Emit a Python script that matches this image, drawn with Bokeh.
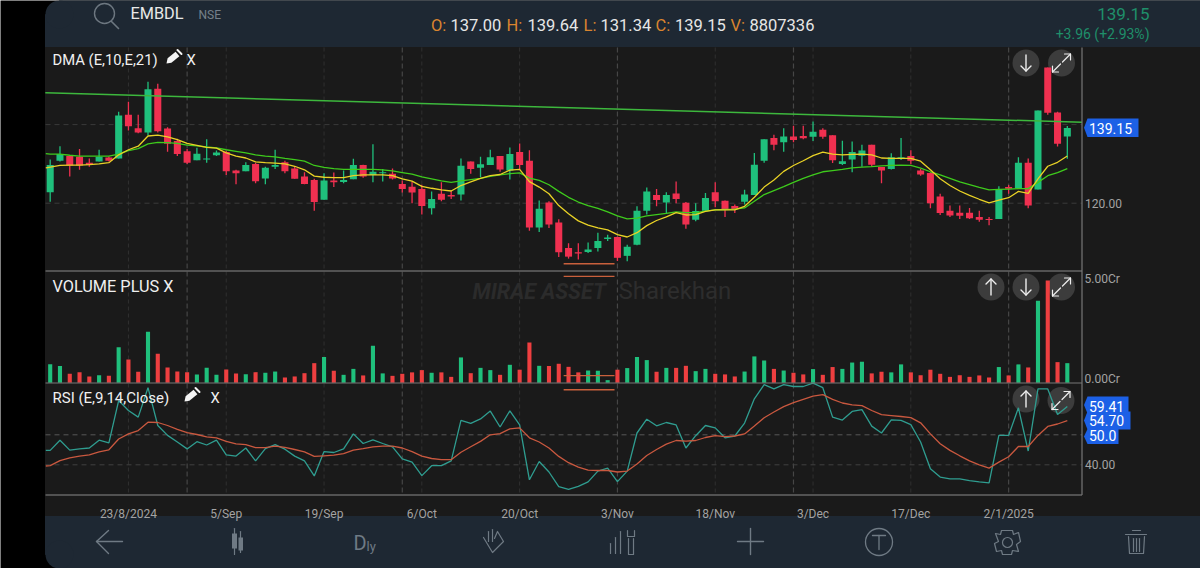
from bokeh.core.properties import value
from bokeh.embed import file_html
from bokeh.models import ColumnDataSource, FixedTicker, LinearAxis, Range1d
from bokeh.plotting import figure
from bokeh.resources import INLINE

# ---------------- data ----------------
SYMBOL = "EMBDL"
OPEN = [122.8,130.8,132.0,131.8,130.3,130.6,131.6,131.4,142.5,139.1,138.0,149.1,139.0,135.8,133.2,130.9,131.1,132.2,133.0,128.3,
        128.1,130.0,126.3,129.3,130.4,128.8,126.8,125.9,120.9,125.8,125.4,126.1,129.7,127.2,127.6,127.5,124.9,124.2,123.6,118.7,
        122.4,122.1,122.2,130.6,129.0,129.7,132.0,128.3,133.0,130.8,113.8,120.2,115.1,108.6,107.5,107.6,108.6,110.9,111.4,106.6,
        109.4,118.1,122.1,120.2,122.5,120.1,115.8,118.1,122.8,120.6,119.3,120.4,122.1,130.8,136.6,135.5,137.0,137.1,136.9,138.7,
        137.3,130.0,131.1,132.1,134.9,129.2,128.7,131.3,132.0,128.3,127.7,121.7,118.1,117.6,117.6,116.5,116.0,116.0,124.1,123.8,
        130.3,123.5,154.5,143.1,137.0]
HIGH = [131.1,134.5,132.0,133.8,131.4,133.6,131.9,143.3,145.8,142.5,150.9,150.4,139.3,136.4,133.8,134.1,136.3,133.4,133.4,128.5,
        130.4,130.3,129.3,133.6,130.8,129.4,127.9,126.2,127.6,127.8,128.3,131.3,129.8,135.0,128.7,128.8,125.8,125.5,124.7,123.0,
        125.3,123.2,131.4,130.6,131.8,133.6,132.0,134.2,135.2,133.5,120.7,120.5,115.9,109.8,109.8,110.0,112.5,112.0,111.5,109.4,
        119.2,124.0,123.6,122.8,125.5,120.3,120.0,122.6,125.3,120.7,119.7,123.4,132.8,136.3,137.4,139.1,139.7,139.7,140.8,139.1,
        137.3,135.9,135.7,134.9,134.9,129.2,132.7,136.6,133.5,128.7,127.9,122.4,119.4,119.4,118.8,118.1,116.5,124.3,124.6,131.7,
        131.4,143.6,154.5,143.3,139.64]
LOW = [120.4,130.6,126.8,128.5,129.3,130.6,130.6,131.4,138.5,137.8,137.2,138.0,133.1,132.0,130.0,130.9,130.3,132.0,127.2,124.8,
       128.1,125.1,124.8,128.7,127.6,126.2,124.8,118.1,120.9,124.1,125.1,126.1,126.5,125.3,125.5,126.0,122.7,120.0,117.1,117.1,
       120.5,121.1,120.7,127.5,126.6,129.7,128.0,126.0,128.6,113.0,112.7,113.7,106.3,105.9,105.7,107.3,107.7,110.4,105.3,105.2,
       109.3,117.1,119.2,117.3,120.0,113.5,115.4,117.9,119.0,116.5,117.5,119.7,122.1,130.3,133.5,133.1,135.5,136.3,135.8,136.4,
       130.2,129.7,127.9,129.3,129.3,125.1,128.6,131.0,129.9,127.0,118.7,117.0,116.5,116.0,116.0,115.3,114.4,116.0,122.4,123.8,
       118.7,123.5,142.5,134.4,131.34]
CLOSE = [129.7,132.5,129.6,129.6,129.7,131.8,130.8,142.3,139.6,138.0,149.0,138.3,135.1,132.5,130.3,132.6,131.4,132.9,128.1,127.6,
         129.7,125.6,129.0,129.7,128.1,126.2,124.9,120.3,125.8,125.3,125.9,129.7,126.8,128.0,127.9,126.3,123.6,122.7,119.3,121.1,
         120.9,121.7,129.5,128.7,129.9,131.7,128.6,132.5,129.7,113.8,118.6,114.6,107.5,106.4,107.2,108.2,110.4,111.3,106.1,108.9,
         118.1,123.0,120.8,122.1,121.1,114.6,118.0,121.3,120.5,118.4,118.5,122.2,129.8,136.3,134.9,137.0,136.1,136.5,138.2,136.9,
         130.9,130.7,133.0,133.4,129.8,128.3,131.7,131.7,130.8,127.3,120.0,117.5,116.9,116.8,116.2,115.8,115.7,123.6,123.7,130.3,
         119.4,143.6,143.0,135.1,139.15]
VOLUME = [0.91,0.82,0.44,0.51,0.31,0.37,0.34,1.74,1.14,0.54,2.49,1.42,0.75,0.55,0.51,0.41,0.73,0.39,0.65,0.46,
          0.42,0.52,0.49,0.55,0.26,0.31,0.47,0.96,1.26,0.59,0.39,0.68,0.36,1.81,0.46,0.34,0.44,0.51,0.62,0.49,
          0.51,0.29,1.24,0.47,0.73,0.62,0.39,0.88,0.64,1.97,0.83,0.82,0.93,0.78,0.51,0.60,0.59,0.13,0.64,0.72,
          1.26,1.11,0.54,0.73,0.73,0.83,0.57,0.68,0.44,0.41,0.31,0.55,1.29,1.09,0.68,0.60,0.49,0.41,0.67,0.39,
          0.77,0.68,0.99,1.03,0.46,0.54,0.51,0.90,0.51,0.37,0.64,0.44,0.29,0.37,0.29,0.36,0.26,0.77,0.36,0.90,
          0.75,4.01,5.00,1.01,0.96]
# the moving averages and the RSI lines start half a bar before the first candle
LINE_X = [-0.45] + list(range(105))
EMA10 = [129.0,129.2,129.6,129.7,129.7,129.8,130.0,130.3,132.3,133.6,134.5,137.1,137.3,136.9,136.2,135.2,134.7,134.2,134.0,132.8,132.0,
         131.5,130.5,130.3,130.2,130.0,129.4,128.5,126.9,126.6,126.5,126.5,127.0,127.2,127.2,127.2,127.0,126.2,125.6,124.3,123.8,
         123.4,123.1,124.5,125.4,126.3,127.0,127.3,128.4,128.6,125.5,124.1,122.4,119.4,117.3,115.5,114.4,113.7,113.2,112.0,111.4,
         112.5,114.3,115.6,116.5,117.6,117.0,117.1,117.9,118.3,118.3,118.3,119.2,121.5,124.1,125.9,128.1,129.6,130.8,132.1,133.0,
         132.5,132.3,132.4,132.5,132.3,131.5,131.4,131.4,131.4,130.7,128.5,126.2,124.5,123.1,122.0,121.0,120.1,120.8,121.4,123.0,
         122.5,126.2,129.4,130.4,132.0]
EMA21 = [132.6,132.5,132.5,132.2,132.0,132.0,132.0,132.0,132.5,133.4,133.9,135.1,135.5,135.4,135.2,134.8,134.6,134.3,134.1,133.6,133.2,
         132.8,132.3,132.0,131.8,131.4,131.1,130.7,129.6,129.1,128.8,128.6,128.6,128.6,128.6,128.5,128.2,127.8,127.4,126.7,126.2,
         125.7,125.3,125.7,126.0,126.3,126.8,127.2,127.5,127.7,126.4,125.8,124.7,123.0,121.5,120.3,119.4,118.7,117.8,116.8,116.0,
         116.2,116.8,117.1,117.4,117.8,117.6,117.6,118.0,118.3,118.4,118.5,118.8,120.5,122.2,123.2,124.2,125.3,126.3,127.2,128.0,
         128.3,128.6,129.0,129.2,129.3,129.5,129.6,129.7,129.6,128.9,128.0,127.2,126.3,125.4,124.7,124.0,123.4,123.5,123.6,123.7,
         123.7,125.3,127.0,127.8,128.8]
RSI = [44.8,44.8,48.2,44.9,45.3,45.6,48.2,47.3,61.4,58.1,55.9,65.7,53.1,49.8,47.6,45.3,47.7,46.6,48.2,43.3,42.9,
       45.6,41.3,45.4,46.7,45.2,42.9,41.3,36.3,44.4,44.1,45.3,50.3,47.1,48.3,47.1,46.0,42.0,40.9,36.4,39.7,
       39.7,41.3,54.8,53.8,55.3,57.9,52.6,58.0,53.3,35.0,41.1,37.6,32.7,31.8,32.8,34.3,37.9,38.9,34.4,37.9,
       50.6,55.2,53.0,54.1,53.3,45.6,49.7,53.1,52.3,49.0,49.6,53.9,62.0,66.7,65.3,66.7,66.1,66.1,67.2,65.7,
       55.9,54.9,57.8,58.4,52.9,50.6,55.0,54.8,53.4,47.6,38.7,35.9,35.3,35.3,34.7,34.3,34.0,49.8,49.8,59.0,
       44.6,65.3,65.3,56.8,59.41]
RSI_EMA = [39.6,39.7,41.4,42.3,42.9,43.3,44.3,45.0,48.6,50.3,51.4,54.2,54.1,53.1,51.8,50.7,50.1,49.3,49.0,47.8,47.0,
           46.7,45.7,45.7,46.2,45.8,45.1,44.3,42.8,43.0,43.2,43.7,44.9,45.4,46.0,46.2,46.2,45.6,44.4,42.9,42.1,
           41.7,41.7,44.2,46.0,47.8,50.0,50.4,52.0,52.3,49.0,47.6,45.6,42.8,40.7,39.2,38.2,38.1,38.1,37.6,37.9,
           40.3,43.1,45.1,46.9,48.1,47.9,48.1,49.1,49.7,49.4,49.6,50.3,52.9,55.7,57.6,59.4,60.7,61.8,62.9,63.4,
           61.8,60.6,60.0,59.7,58.1,56.7,56.4,56.1,55.7,54.0,50.3,47.0,44.8,43.0,41.3,40.0,38.9,40.9,42.7,46.1,
           46.1,49.8,52.8,53.6,54.70]
TREND_X = [-0.5, 105.5]
TREND_Y = [148.1, 140.6]
SIGNAL_X = [52.5, 57.7]
SIGNAL_PRICE = 104.6
SIGNAL_VOL = [5.2, 0.35]
SIGNAL_RSI = 65.0
TICK_POS = [8, 18, 28, 38, 48, 58, 68, 78, 88, 98]
TICK_LABELS = ["23/8/2024", "5/Sep", "19/Sep", "6/Oct", "20/Oct", "3/Nov", "18/Nov", "3/Dec", "17/Dec", "2/1/2025"]
MONTH_LINES = [14, 36, 58, 76, 98]
PLAIN_LINES = [8, 18, 28, 38, 48, 68, 78, 88]

# ---------------- geometry: ranges expressed in reference pixels ----------------
L, R, T, B = 0, 1200, 0, 568
BAR0, BAR_W = 49.7, 9.78
PANEL_L, PANEL_R = 45, 1081.5
P120, P_PX = 202.7, 3.93
V0, V_PX = 382.3, 20.46
R50, R_PX = 434.3, 3.0
FONT = "Roboto"
NAVY, PANEL = "#1e2833", "#1a1a1a"
GREEN, RED, VRED = "#1fc07c", "#f03050", "#ee3f40"
GRAY, ICON, BLUE = "#a3a3a3", "#6f7a84", "#1c60e6"

p = figure(width=R - L, height=B - T, output_backend="svg", toolbar_location=None,
           x_range=Range1d(L, R), y_range=Range1d(B, T),
           x_axis_location=None, y_axis_location=None,
           min_border=0, outline_line_color=None, background_fill_color="#000000",
           border_fill_color="#000000")
p.grid.visible = False
p.extra_x_ranges["bars"] = Range1d((L - BAR0) / BAR_W, (R - BAR0) / BAR_W)
p.extra_y_ranges["price"] = Range1d(120 + (P120 - B) / P_PX, 120 + (P120 - T) / P_PX)
p.extra_y_ranges["vol"] = Range1d((V0 - B) / V_PX, (V0 - T) / V_PX)
p.extra_y_ranges["rsi"] = Range1d(50 + (R50 - B) / R_PX, 50 + (R50 - T) / R_PX)


def txt(x, y, s, size, color, align="left", **kw):
    p.text([x], [y], text=[s], text_font=value(FONT), text_font_size=f"{size}px", text_color=color,
           text_align=align, text_baseline="middle", **kw)


def lines(paths, color, width=1.4):
    p.multi_line([[a[0] for a in q] for q in paths], [[a[1] for a in q] for q in paths],
                 line_color=color, line_width=width, line_cap="round", line_join="round")


# panels
p.quad(left=[PANEL_L + 14, PANEL_L, PANEL_L], right=[R, R, R], top=[T, 14, 515], bottom=[47, 47, 554], color=NAVY)
p.circle([PANEL_L + 14], [14], radius=14, color=NAVY, line_color=None)
p.quad(left=[PANEL_L + 14], right=[R], top=[515], bottom=[B], color=NAVY)
p.circle([PANEL_L + 14], [554], radius=14, color=NAVY, line_color=None)
p.quad(left=[PANEL_L], right=[R], top=[47], bottom=[515], color=PANEL)

# grid
for t in PLAIN_LINES:
    p.line([t, t], [47, 494], x_range_name="bars", line_color="#303030", line_dash=[4, 3], line_width=1)
for t in MONTH_LINES:
    p.line([t, t], [47, 494], x_range_name="bars", line_color="#464646", line_dash=[5, 3], line_width=1.2)
for v in (140, 120):
    p.line([PANEL_L, PANEL_R], [v, v], y_range_name="price", line_color="#3a3a3a", line_dash=[5, 4])
p.line([PANEL_L, PANEL_R], [50, 50], y_range_name="rsi", line_color="#585858", line_dash=[5, 4])
p.line([PANEL_L, PANEL_R], [40, 40], y_range_name="rsi", line_color="#404040", line_dash=[5, 4])

# watermark
txt(472, 290.5, "MIRAE ASSET", 21.5, "#2b2b2b", text_font_style="bold italic")
txt(618, 290.5, "Sharekhan", 24, "#2d2d2d")

# round buttons under the marks
BTN = [(1025.5, 62.5), (1061, 62.5), (990.5, 286.5), (1025.5, 286.5), (1061, 286.5), (1025.5, 398.5), (1060.5, 400)]
p.circle([b[0] for b in BTN], [b[1] for b in BTN], radius=13.5, color="#3c3c3c", line_color=None)

# candles
idx = list(range(len(CLOSE)))
up = [c >= o for o, c in zip(OPEN, CLOSE)]
src = ColumnDataSource(dict(i=idx, low=LOW, high=HIGH, bot=[min(a, b) for a, b in zip(OPEN, CLOSE)],
                            top=[max(a, b) for a, b in zip(OPEN, CLOSE)], vol=VOLUME,
                            c=[GREEN if u else RED for u in up], vc=[GREEN if u else VRED for u in up]))
p.segment(x0="i", x1="i", y0="low", y1="high", source=src, x_range_name="bars", y_range_name="price",
          line_color="c", line_width=1.3)
p.vbar(x="i", width=0.72, bottom="bot", top="top", source=src, x_range_name="bars", y_range_name="price",
       fill_color="c", line_color=None)
# volume
p.vbar(x="i", width=0.42, bottom=0, top="vol", source=src, x_range_name="bars", y_range_name="vol",
       fill_color="vc", line_color=None)

# overlays on price
p.line(TREND_X, TREND_Y, x_range_name="bars", y_range_name="price", line_color="#3db83d", line_width=1.5)
p.line(LINE_X, EMA21, x_range_name="bars", y_range_name="price", line_color="#3ecb1c", line_width=1.3)
p.line(LINE_X, EMA10, x_range_name="bars", y_range_name="price", line_color="#e9d226", line_width=1.3)
# rsi
p.line(LINE_X, RSI, x_range_name="bars", y_range_name="rsi", line_color="#2f9d90", line_width=1.3)
p.line(LINE_X, RSI_EMA, x_range_name="bars", y_range_name="rsi", line_color="#c9583f", line_width=1.3)
# short orange markers
ORANGE = "#c9603c"
p.line(SIGNAL_X, [SIGNAL_PRICE] * 2, x_range_name="bars", y_range_name="price", line_color=ORANGE, line_width=1.4)
for v in SIGNAL_VOL:
    p.line(SIGNAL_X, [v, v], x_range_name="bars", y_range_name="vol", line_color=ORANGE, line_width=1.4)
p.line(SIGNAL_X, [SIGNAL_RSI] * 2, x_range_name="bars", y_range_name="rsi", line_color=ORANGE, line_width=1.4)

# panel frame
FR = "#777777"
p.line([PANEL_L, PANEL_R], [270.5, 270.5], line_color="#666666", line_width=1.6)
p.line([PANEL_L, PANEL_R], [382.5, 382.5], line_color=FR, line_width=1.2)
p.line([PANEL_L, PANEL_R], [494.5, 494.5], line_color="#8a8a8a", line_width=1.2)
p.line([PANEL_R, PANEL_R], [47, 494.5], line_color=FR, line_width=1.2)

# axes
xa = LinearAxis(x_range_name="bars", ticker=FixedTicker(ticks=TICK_POS),
                major_label_overrides=dict(zip(TICK_POS, TICK_LABELS)), fixed_location=494.5)
pa = LinearAxis(y_range_name="price", ticker=FixedTicker(ticks=[120]), major_label_overrides={120: "120.00"},
                fixed_location=PANEL_R)
ra = LinearAxis(y_range_name="rsi", ticker=FixedTicker(ticks=[40]), major_label_overrides={40: "40.00"},
                fixed_location=PANEL_R)
for a in (xa, pa, ra):
    a.axis_line_color = None
    a.major_tick_line_color = None
    a.minor_tick_line_color = None
    a.major_tick_out = 0
    a.major_label_text_font = FONT
    a.major_label_text_font_size = "12px"
    a.major_label_text_color = GRAY
    a.major_label_standoff = 3
xa.major_label_standoff = 12
p.add_layout(xa, "below")
p.add_layout(pa, "right")
p.add_layout(ra, "right")
txt(1084, 278, "5.00Cr", 12, GRAY)
txt(1084, 378, "0.00Cr", 12, GRAY)


# value tags
def tag(x0, x1, y0, y1, label, ty):
    ym = (y0 + y1) / 2
    p.patch([x0 - 3.5, x0, x1, x1, x0], [ym, y0, y0, y1, y1], color=BLUE, line_color=None)
    txt(x0 + 1.5, ty, label, 14, "#ffffff")


tag(1087, 1138, 118, 136.5, "139.15", 127.5)
tag(1087, 1118, 428.5, 443.5, "50.0", 435)
tag(1087, 1130, 411, 429, "54.70", 420)
tag(1087, 1128, 396, 413, "59.41", 405.5)

# header
txt(130, 13, SYMBOL, 16.3, "#e8e8e8")
txt(198, 14, "NSE", 12, "#75808a")
for x, lab, xv, val in [(430.5, "O:", 450, "137.00"), (506, "H:", 527, "139.64"), (583, "L:", 600, "131.34"),
                        (655, "C:", 674.5, "139.15"), (730, "V:", 749, "8807336")]:
    txt(x, 24.5, lab, 16.5, "#d9842f")
    txt(xv, 24.5, val, 16.5, "#e6e6e6")
txt(1149, 13, "139.15", 17, "#1f8f6a", align="right")
txt(1149, 33, "+3.96 (+2.93%)", 14, "#1f8f6a", align="right")
# search icon
p.circle([104], [13], radius=10, fill_color=None, line_color="#6d7780", line_width=1.4)
lines([[(111, 21), (118, 28)]], "#6d7780", 1.6)

# panel titles
txt(52, 59.5, "DMA (E,10,E,21)", 14.8, "#f0f0f0")
txt(186, 59.5, "X", 14.8, "#f0f0f0")
txt(52, 285.5, "VOLUME PLUS X", 16.3, "#f0f0f0")
txt(52, 397.5, "RSI (E,9,14,Close)", 15, "#f0f0f0")
txt(210, 397.5, "X", 14.8, "#f0f0f0")


def pencil(x, y):
    p.patch([x, x + 4.9, x + 12.9, x + 9.1, x + 1.1], [y, y - 0.7, y - 7.2, y - 11.8, y - 5.3],
            color="#f5f5f5", line_color=None)
    lines([[(x + 11, y - 13.5), (x + 15, y - 9.5)]], "#f5f5f5", 2)


pencil(166, 63)
pencil(184, 401)


# button glyphs
def arrow(x, y, d):
    lines([[(x, y - 8 * d), (x, y + 8 * d)], [(x - 5, y + 3 * d), (x, y + 8 * d), (x + 5, y + 3 * d)]], "#eeeeee", 1.4)


def expand(x, y):
    lines([[(x - 9, y + 9), (x - 1, y + 1)], [(x - 9, y + 3), (x - 9, y + 9), (x - 3, y + 9)],
           [(x + 1, y - 1), (x + 9, y - 9)], [(x + 3, y - 9), (x + 9, y - 9), (x + 9, y - 3)]], "#eeeeee", 1.2)


arrow(1025.5, 62.5, 1)
expand(1061, 62.5)
arrow(990.5, 286.5, -1)
arrow(1025.5, 286.5, 1)
expand(1061, 286.5)
arrow(1025.5, 398.5, -1)
expand(1060.5, 400)

# bottom toolbar
lines([[(122, 541), (96, 541)], [(108, 530), (96, 541), (108, 553)]], ICON, 1.4)
lines([[(234, 528), (234, 554)], [(240, 531), (240, 552)]], ICON, 1.2)
p.quad(left=[231.5, 238], right=[236.5, 242.5], top=[533, 537], bottom=[548, 550], fill_color=ICON, line_color=None)
txt(353, 542, "D", 20, ICON)
txt(366, 546, "ly", 13, ICON)
lines([[(483, 537), (492, 552), (503, 541), (497, 531), (494, 538)], [(488, 531), (488, 541)], [(492, 529), (492, 541)]], ICON, 1.2)
lines([[(610, 553), (610, 543)], [(615, 553), (615, 537)], [(620, 553), (620, 531)],
       [(627, 530), (627, 536), (634, 536), (634, 530)], [(628, 538), (628, 554), (633, 554), (633, 538)]], ICON, 1.2)
lines([[(737, 541), (763, 541)], [(750, 528), (750, 554)]], ICON, 1.4)
p.circle([878.5], [541.5], radius=13.5, fill_color=None, line_color=ICON, line_width=1.3)
lines([[(872, 535), (885, 535)], [(878.5, 535), (878.5, 549)]], ICON, 1.3)
lines([[(1001, 530), (1012, 530), (1013, 534), (1018, 532), (1020, 541), (1016, 544), (1018, 551), (1012, 550),
        (1011, 554), (1002, 554), (1001, 550), (996, 551), (994, 543), (998, 541), (995, 533), (1000, 534), (1001, 530)]], ICON, 1.2)
p.circle([1007], [542], radius=5, fill_color=None, line_color=ICON, line_width=1.2)
lines([[(1125, 534), (1146, 534)], [(1132, 530), (1140, 530)],
       [(1128, 536), (1129, 553), (1143, 553), (1144, 536)],
       [(1133, 538), (1133, 551)], [(1136, 538), (1136, 551)], [(1139, 538), (1139, 551)]], ICON, 1.2)

open("out.html", "w").write(file_html(p, INLINE))
